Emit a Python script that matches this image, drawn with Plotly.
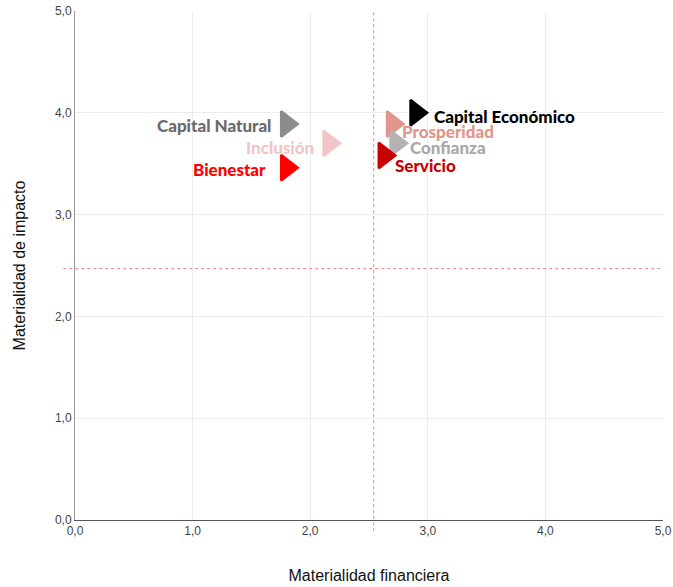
import plotly.graph_objects as go

# Materiality matrix: financial vs. impact materiality per capital
names = ["Capital Natural", "Inclusión", "Bienestar", "Prosperidad",
         "Confianza", "Servicio", "Capital Económico"]
financiera = [1.80, 2.16, 1.80, 2.70, 2.73, 2.63, 2.90]
impacto = [3.89, 3.70, 3.46, 3.89, 3.70, 3.58, 4.00]
marker_colors = ["#8c8c8c", "#f2c6c6", "#ff0000", "#e0968a",
                 "#b3b3b3", "#c80000", "#000000"]
label_colors = ["#6b6b6b", "#f2c6c6", "#ff0000", "#e0968a",
                "#a8a8a8", "#c80000", "#000000"]

# Label placement relative to each marker (side, px offset x, px offset y)
label_side = ["right", "right", "right", "left", "left", "left", "left"]
label_dx = [-14, -13, -19, 7, 12, 9, 16]
label_dy = [-1, -4, -2, -7, -4, -10, -4]

umbral_x = 2.54
umbral_y = 2.47

fig = go.Figure()

for i, n in enumerate(names):
    fig.add_trace(go.Scatter(
        x=[financiera[i]], y=[impacto[i]], mode="markers", name=n,
        marker=dict(symbol="triangle-right", size=22, color=marker_colors[i],
                    line=dict(color=marker_colors[i], width=2.5)),
        showlegend=False, hoverinfo="text", text=[n],
    ))
    fig.add_annotation(
        x=financiera[i], y=impacto[i], text=n,
        showarrow=False, xanchor=label_side[i], yanchor="middle",
        xshift=label_dx[i], yshift=label_dy[i],
        font=dict(family="Lato", size=17, weight=900, color=label_colors[i]),
    )

# Threshold lines
fig.add_shape(type="line", xref="x", yref="paper", x0=umbral_x, x1=umbral_x,
              y0=-0.022, y1=0.998,
              line=dict(color="#f08080", width=1, dash="dot"))
fig.add_shape(type="line", xref="paper", yref="y", x0=-0.02, x1=0.995,
              y0=umbral_y, y1=umbral_y,
              line=dict(color="#f08080", width=1, dash="dot"))

tick_font = dict(family="Liberation Sans, Arial", size=12, color="#444444")
title_font = dict(family="Liberation Sans, Arial", size=16, color="#111111")

fig.update_layout(
    width=673, height=587,
    margin=dict(l=75, r=10, t=11, b=67),
    paper_bgcolor="white", plot_bgcolor="white",
    separators=",.",
    xaxis=dict(range=[0, 5], dtick=1, tickformat=".1f", showgrid=True,
               gridcolor="#ececec", zeroline=False, showline=True,
               linecolor="#555555", linewidth=1, tickfont=tick_font,
               ticks="", automargin=False,
               title=dict(text="Materialidad financiera",
                          font=title_font, standoff=32)),
    yaxis=dict(range=[0, 5], dtick=1, tickformat=".1f", showgrid=True,
               gridcolor="#ececec", zeroline=False, showline=True,
               linecolor="#999999", linewidth=1, tickfont=tick_font,
               ticks="", automargin=False,
               title=dict(text="Materialidad de impacto",
                          font=title_font, standoff=25)),
)

fig.write_html("out.html")
